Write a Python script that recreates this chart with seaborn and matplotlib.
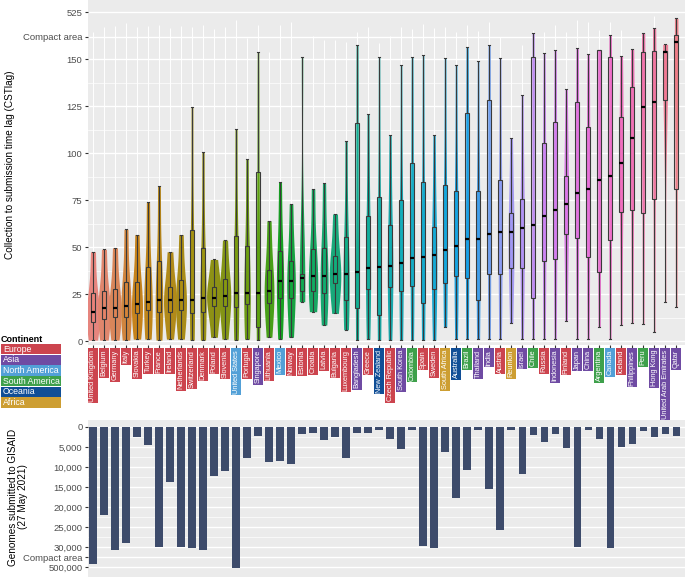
import numpy as np
import pandas as pd
import matplotlib
matplotlib.use("Agg")
import matplotlib.pyplot as plt
import seaborn as sns
from matplotlib.patches import Rectangle
from matplotlib.ticker import FixedLocator

plt.rcParams['font.family'] = ['Liberation Sans', 'DejaVu Sans']

countries = ["United Kingdom", "Belgium", "Germany", "Italy", "Slovakia", "Turkey", "France",
             "Ireland", "Netherlands", "Switzerland", "Denmark", "Poland", "Slovenia",
             "United States", "Portugal", "Singapore", "Lithuania", "Mexico", "Norway",
             "Estonia", "Croatia", "Latvia", "Bulgaria", "Luxembourg", "Bangladesh", "Greece",
             "New Zealand", "Czech Republic", "South Korea", "Colombia", "Spain", "Sweden",
             "South Africa", "Australia", "Brazil", "Thailand", "India", "Austria", "Reunion",
             "Israel", "Chile", "Russia", "Indonesia", "Finland", "Japan", "China", "Argentina",
             "Canada", "Iceland", "Philippines", "Peru", "Hong Kong", "United Arab Emirates",
             "Qatar"]
continents = ["Europe"] * 13 + ["North America", "Europe", "Asia", "Europe", "North America"] + \
             ["Europe"] * 6 + ["Asia", "Europe", "Oceania", "Europe", "Asia", "South America",
             "Europe", "Europe", "Africa", "Oceania", "South America", "Asia", "Asia", "Europe",
             "Africa", "Asia", "South America", "Europe", "Asia", "Europe", "Asia", "Asia",
             "South America", "North America", "Europe", "Asia", "South America", "Asia",
             "Asia", "Asia"]

# Collection-to-submission lag summary (days): whisker low, Q1, median, Q3, whisker high, max
lag_low = [0.5, 0.5, 0.5, 0.5, 1, 1, 0.5, 1, 1, 0.5, 0.5, 2, 1, 0.5, 1, 0.5, 2, 1, 2, 20.9,
           15.6, 8.5, 14.7, 6, 0.5, 1, 0.5, 0.5, 0.5, 0.5, 0.5, 0.5, 7.6, 1, 1, 1, 1, 1, 9.7, 1,
           1, 1, 1, 10.8, 1, 1, 7.6, 1, 8.5, 9.4, 9, 5, 20.6, 17.9]
lag_q1 = [10.3, 11.5, 12.6, 12.9, 14.7, 16.5, 15.6, 15.6, 16.5, 14.7, 15.6, 18.6, 18.6, 17.9,
          19.7, 7.6, 20.4, 23, 23, 26.6, 26.6, 25.4, 30.7, 21.8, 17.7, 27.5, 13.8, 28.6, 26.6,
          29.4, 20.4, 27.5, 30.7, 34.6, 33.7, 21.8, 35.6, 35.6, 38.7, 38.7, 22.7, 42.6, 43.6,
          56.7, 54.6, 44.5, 36.5, 53.7, 68.8, 69.7, 67.9, 75.5, 128.2, 80.9]
lag_med = [15.6, 17.7, 17.7, 18.8, 19.7, 20.6, 21.8, 21.8, 21.8, 21.8, 23.0, 23.0, 23.9, 25.7,
           25.7, 25.7, 26.6, 31.9, 31.9, 33.7, 34.6, 34.6, 35.5, 35.5, 36.5, 38.7, 39.2, 39.9,
           41.7, 44.0, 44.8, 45.7, 48.4, 50.7, 54.1, 54.1, 56.7, 57.8, 57.8, 59.9, 61.7, 66.7,
           69.7, 72.9, 78.9, 80.9, 85.8, 87.8, 94.8, 107.8, 124.6, 127.0, 204, 288]
lag_q3 = [25.4, 26.6, 27.7, 31.6, 31.6, 39.5, 42.6, 28.6, 32.4, 59.0, 49.6, 28.9, 32.8, 55.9,
          50.7, 89.7, 37.8, 47.9, 42.6, 35.5, 48.9, 49.6, 45.4, 55.5, 115.8, 66.7, 76.8, 61.7,
          75.0, 94.8, 84.7, 60.8, 83.0, 79.8, 121.1, 79.8, 128.2, 85.6, 67.9, 75.5, 163, 105.2,
          116.7, 87.8, 127.0, 113.8, 222, 168, 119.0, 134.9, 204, 214, 214, 342]
lag_high = [47.5, 48.8, 49.6, 59.4, 56.6, 73.8, 82.6, 47.5, 56.6, 124.6, 100.4, 43.4, 53.7,
            112.8, 96.8, 208, 64, 84.7, 72.9, 168, 80.9, 83.9, 67.6, 106.6, 261, 120.7, 163,
            109.6, 146.8, 168, 181, 109.6, 156, 146.8, 247, 148.9, 261, 156, 107.8, 130.9, 355,
            195, 222, 133.9, 235, 190, 222, 342, 174, 228, 355, 400, 267, 474]
lag_max = [363, 402, 415, 440, 402, 415, 422, 395, 415, 408, 422, 390, 408, 460, 315, 422, 208,
           422, 447, 168, 336, 300, 302, 288, 368, 408, 274, 333, 408, 387, 433, 394, 408, 363,
           421, 373, 447, 322, 150, 261, 381, 367, 421, 363, 460, 447, 381, 447, 381, 228, 355,
           493, 267, 474]

# Genomes submitted to GISAID (27 May 2021)
genomes = [419400, 22000, 106000, 29030, 2460, 4530, 35000, 13780, 35000, 45700, 97000, 12150,
           11070, 520000, 7800, 2310, 8780, 8460, 9200, 1720, 1400, 3200, 2390, 7630, 1480, 1570,
           840, 2880, 5580, 840, 29770, 61300, 6250, 17710, 10750, 840, 15600, 25830, 840, 11810,
           2070, 3690, 1650, 5170, 39000, 840, 3120, 45700, 5020, 4180, 1080, 2560, 1650, 2140]

continent_names = ["Europe", "Asia", "North America", "South America", "Oceania", "Africa"]
continent_colors = ["#CC444E", "#6F4BA3", "#52A0D7", "#3EA04B", "#104E96", "#CD9E32"]
cont_col = dict(zip(continent_names, continent_colors))

lag_ticks = [0, 25, 50, 75, 100, 125, 150]
gen_ticks = [0, 5000, 10000, 15000, 20000, 25000, 30000]


def lag_fwd(v):
    v = np.asarray(v, float)
    return np.where(v <= 150, v, 150 + (v - 150) / 15.0)


def gen_fwd(v):
    v = np.asarray(v, float)
    return np.where(v <= 30000, v, 30000 + (v - 30000) * 5000.0 / 470000.0)


def hcl_rgb(h, c=100.0, l=65.0):
    hr = np.deg2rad(h)
    u, v = c * np.cos(hr), c * np.sin(hr)
    Xn, Yn, Zn = 95.047, 100.0, 108.883
    den = Xn + 15 * Yn + 3 * Zn
    un, vn = 4 * Xn / den, 9 * Yn / den
    Y = Yn * ((l + 16) / 116) ** 3
    up, vp = u / (13 * l) + un, v / (13 * l) + vn
    X = Y * 9 * up / (4 * vp)
    Z = Y * (12 - 3 * up - 20 * vp) / (4 * vp)
    X, Y, Z = X / 100, Y / 100, Z / 100
    r = 3.2404542 * X - 1.5371385 * Y - 0.4985314 * Z
    g = -0.9692660 * X + 1.8760108 * Y + 0.0415560 * Z
    b = 0.0556434 * X - 0.2040259 * Y + 1.0572252 * Z

    def gam(x):
        x = max(0.0, x)
        return 12.92 * x if x <= 0.0031308 else 1.055 * x ** (1 / 2.4) - 0.055
    return tuple(min(1.0, max(0.0, gam(x))) for x in (r, g, b))


n = len(countries)
pal = [hcl_rgb(15 + 360.0 * i / n) for i in range(n)]

rows = []
for i, c in enumerate(countries):
    for v in (lag_low[i], lag_q1[i], lag_med[i], lag_q3[i], lag_high[i]):
        rows.append((c, float(lag_fwd(v))))
df = pd.DataFrame(rows, columns=["country", "lag"])

W, H = 685, 578
fig = plt.figure(figsize=(W / 100, H / 100), dpi=100)
fig.patch.set_facecolor("white")

ax1 = fig.add_axes([88 / W, 1 - 345 / H, (W - 88) / W, 345 / H])
ax2 = fig.add_axes([88 / W, 1 - 577 / H, (W - 88) / W, (577 - 420) / H])

for ax in (ax1, ax2):
    ax.set_facecolor("#EBEBEB")
    for s in ax.spines.values():
        s.set_visible(False)
    ax.set_axisbelow(True)

# --- top panel ---
sns.violinplot(data=df, x="country", y="lag", hue="country", order=countries,
               hue_order=countries, palette=pal, legend=False, density_norm="area",
               common_norm=True, cut=0, inner=None, linewidth=0, width=1.35, bw_adjust=0.85,
               ax=ax1, zorder=2)
ax1.vlines(np.arange(n), lag_fwd(lag_high), lag_fwd(lag_max), colors="white",
           linewidth=0.7, zorder=1.5)
sns.boxplot(data=df, x="country", y="lag", order=countries, whis=(0, 100), width=0.36,
            showfliers=False, color="white", linecolor="#3a3a3a", linewidth=0.8,
            medianprops={"color": "black", "linewidth": 1.6}, ax=ax1, zorder=3)
for i, p in enumerate(ax1.patches):
    p.set_facecolor((*pal[i % n], 0.25))

ax1.set_xlim(-0.45, 53.8)
ax1.set_ylim(-2.1, 181.4)
ytick_pos = list(lag_fwd(lag_ticks)) + [161.8, float(lag_fwd(525))]
ax1.yaxis.set_major_locator(FixedLocator(ytick_pos))
ax1.set_yticklabels([str(t) for t in lag_ticks] + ["Compact area", "525"])
ax1.yaxis.set_minor_locator(FixedLocator(list(np.arange(12.5, 150, 25))))
ax1.grid(axis="y", which="major", color="white", linewidth=1.0)
ax1.grid(axis="y", which="minor", color="white", linewidth=0.5)
ax1.grid(axis="x", visible=False)
ax1.tick_params(axis="y", which="major", length=2.5, color="#333333", labelsize=6.8,
                labelcolor="#4D4D4D", pad=1.5)
ax1.tick_params(axis="y", which="minor", length=0)
ax1.set_ylabel("")
ax1.set_xlabel("")
ax1.tick_params(axis="x", length=2.5, color="#333333", pad=1.0)
ax1.set_xticks(np.arange(n))
ax1.set_xticklabels(countries, rotation=90, fontsize=5.3, color="white")
for lab, cont in zip(ax1.get_xticklabels(), continents):
    lab.set_bbox(dict(boxstyle="square,pad=0.22", facecolor=cont_col[cont], edgecolor="none"))

# --- bottom panel ---
sns.barplot(x=countries, y=gen_fwd(genomes), order=countries, color="#3D4B6B",
            width=0.66, saturation=1, ax=ax2, zorder=2)
ax2.set_xlim(ax1.get_xlim())
ax2.set_ylim(37500, -1750)
gtick_pos = list(gen_fwd(gen_ticks)) + [32600, float(gen_fwd(500000))]
ax2.yaxis.set_major_locator(FixedLocator(gtick_pos))
ax2.set_yticklabels([f"{t:,}" for t in gen_ticks] + ["Compact area", "500,000"])
ax2.yaxis.set_minor_locator(FixedLocator(list(np.arange(2500, 30000, 5000))))
ax2.grid(axis="y", which="major", color="white", linewidth=1.0)
ax2.grid(axis="y", which="minor", color="white", linewidth=0.5)
ax2.grid(axis="x", visible=False)
ax2.tick_params(axis="y", which="major", length=2.5, color="#333333", labelsize=6.8,
                labelcolor="#4D4D4D", pad=1.5)
ax2.tick_params(axis="y", which="minor", length=0)
ax2.set_xticks([])
ax2.set_xlabel("")
ax2.set_ylabel("")

# axis titles
fig.text(10 / W, 1 - 165 / H, "Collection to submission time lag (CSTlag)", rotation=90,
         ha="center", va="center", fontsize=7.2, color="black")
fig.text(18 / W, 1 - 497 / H, "Genomes submitted to GISAID\n(27 May 2021)", rotation=90,
         ha="center", va="center", fontsize=7.2, color="black", multialignment="center",
         linespacing=1.1)

# continent legend
fig.text(1 / W, 1 - 339.5 / H, "Continent", fontsize=6.5, fontweight="bold",
         ha="left", va="center", color="black")
box_h = 10.3
for k, (name, col) in enumerate(zip(continent_names, continent_colors)):
    top = 344 + k * 10.65
    fig.add_artist(Rectangle((1 / W, 1 - (top + box_h) / H), 60 / W, box_h / H,
                             transform=fig.transFigure, facecolor=col, edgecolor="none"))
    fig.text(3 / W, 1 - (top + box_h / 2) / H, name, fontsize=6.3, color="white",
             ha="left", va="center")

fig.savefig("out.png", dpi=100)
